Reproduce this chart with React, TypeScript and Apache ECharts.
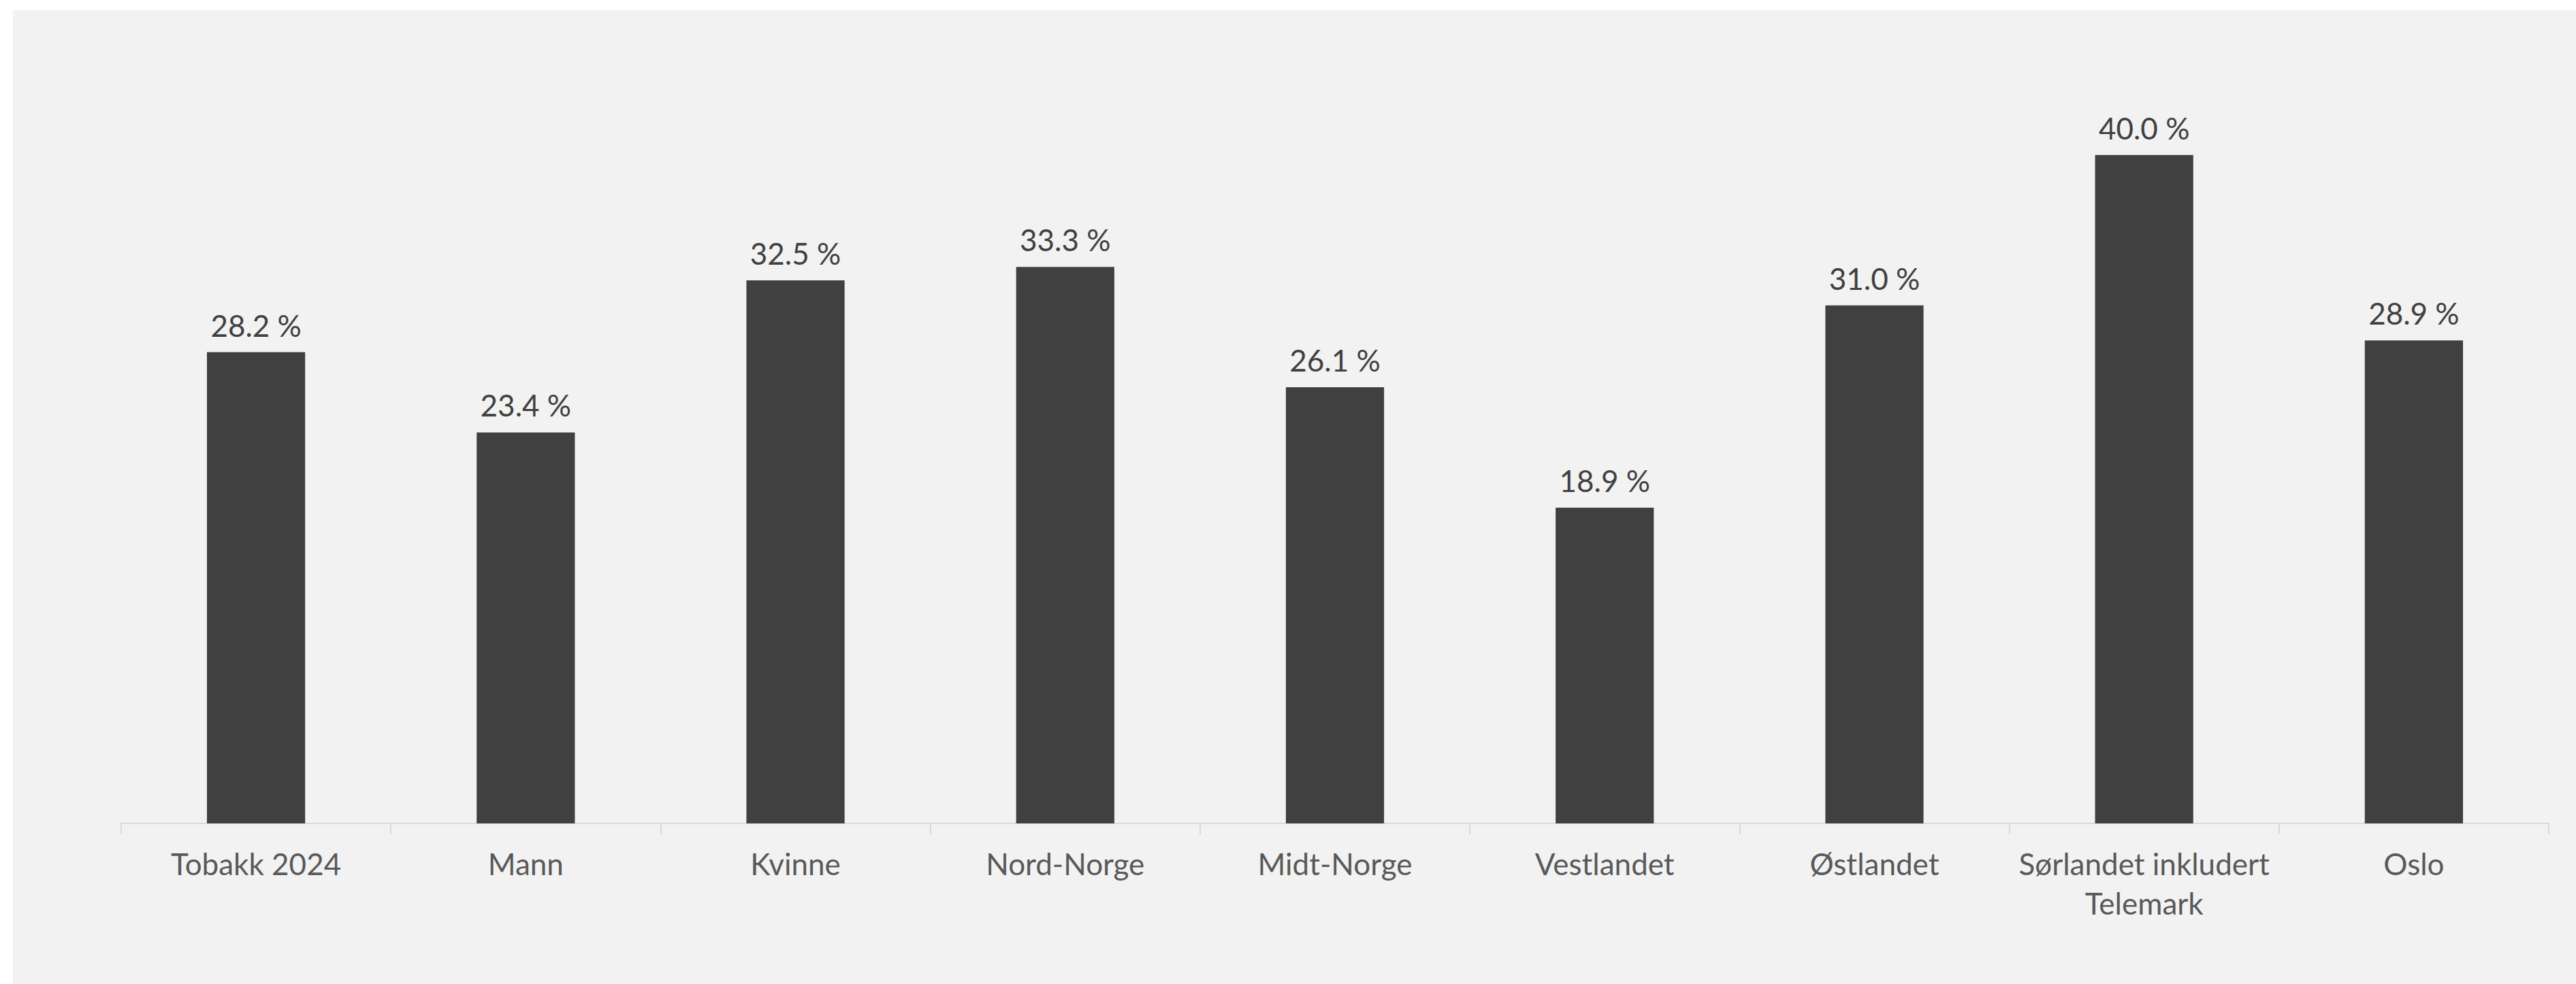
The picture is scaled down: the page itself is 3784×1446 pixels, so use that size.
import React, { useEffect, useRef } from "react";
import * as echarts from "echarts";

const categories = [
  "Tobakk 2024",
  "Mann",
  "Kvinne",
  "Nord-Norge",
  "Midt-Norge",
  "Vestlandet",
  "Østlandet",
  "Sørlandet inkludert\nTelemark",
  "Oslo",
];
const values = [28.2, 23.4, 32.5, 33.3, 26.1, 18.9, 31.0, 40.0, 28.9];

const W = 3784;
const H = 1446;

export default function App() {
  const ref = useRef<HTMLDivElement>(null);
  useEffect(() => {
    if (!ref.current) return;
    const chart = echarts.init(ref.current, undefined, { renderer: "svg" });
    chart.setOption({
      animation: false,
      backgroundColor: "#ffffff",
      textStyle: { fontFamily: "Lato" },
      graphic: [
        {
          type: "rect",
          z: -10,
          silent: true,
          shape: { x: 19, y: 15, width: W - 19, height: H - 15 },
          style: { fill: "#f2f2f2" },
        },
      ],
      grid: { left: 178, right: 40, top: 105, bottom: 236, containLabel: false },
      xAxis: {
        type: "category",
        data: categories,
        axisLine: { show: true, lineStyle: { color: "#d9d9d9", width: 2 } },
        axisTick: { show: true, length: 16, lineStyle: { color: "#d9d9d9", width: 2 } },
        axisLabel: {
          color: "#595959",
          fontFamily: "Lato",
          fontSize: 44,
          lineHeight: 58,
          margin: 30,
          interval: 0,
        },
      },
      yAxis: {
        type: "value",
        min: 0,
        max: 45,
        show: false,
        splitLine: { show: false },
      },
      series: [
        {
          type: "bar",
          data: values,
          barWidth: "36.4%",
          itemStyle: { color: "#404040" },
          label: {
            show: true,
            position: "top",
            distance: 18,
            color: "#404040",
            fontFamily: "Lato",
            fontSize: 44,
            formatter: (p: any) => `${Number(p.value).toFixed(1)} %`,
          },
        },
      ],
    });
    return () => chart.dispose();
  }, []);
  return (
    <div
      ref={ref}
      style={{ position: "absolute", left: 0, top: 0, width: W, height: H }}
    />
  );
}
